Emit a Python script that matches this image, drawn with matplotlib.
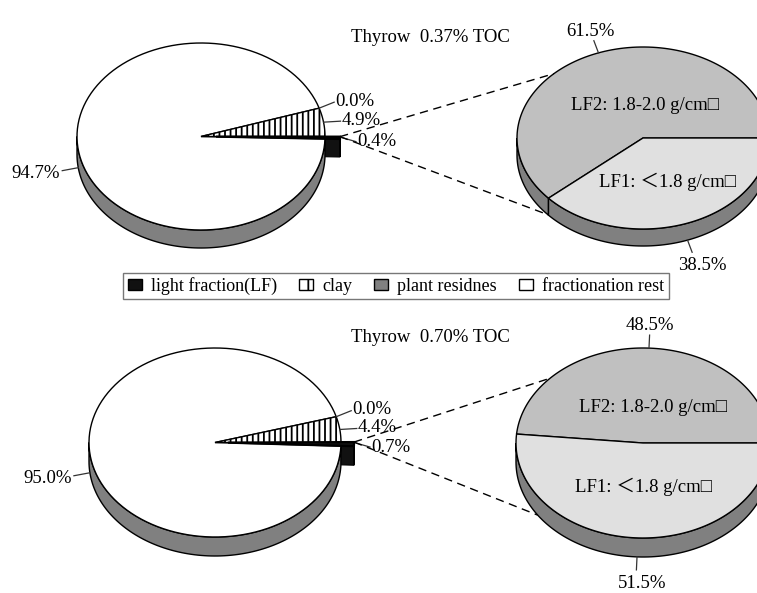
import numpy as np
import matplotlib.pyplot as plt
from matplotlib.patches import Polygon, Patch

plt.rcParams['font.family'] = ['Liberation Serif', 'Noto Sans CJK SC', 'DejaVu Serif']
plt.rcParams['font.size'] = 13.5
plt.rcParams['hatch.linewidth'] = 1.3

# shares of soil organic carbon (%), one entry per site TOC level
toc_levels = ['0.37%', '0.70%']
light_fraction = [0.4, 0.7]
clay = [4.9, 4.4]
plant_residues = [0.0, 0.0]
fractionation_rest = [94.7, 95.0]

# split of the light fraction (%)
lf1_share = [38.5, 51.5]
lf2_share = [61.5, 48.5]
lf1_label = 'LF1: \uff1c1.8 g/cm\u25a1'
lf2_label = 'LF2: 1.8-2.0 g/cm\u25a1'

legend_names = ['light fraction(LF)', 'clay', 'plant residnes', 'fractionation rest']

# pie geometry in pixels (centre, half axes, rim depth)
left_pies = [dict(cx=201, cy=136.5, a=124, b=93.5, depth=18, explode=15),
             dict(cx=215, cy=442.5, a=126, b=94.5, depth=19, explode=13)]
right_pies = [dict(cx=643, cy=138, a=126, b=91, depth=17),
              dict(cx=643, cy=443, a=127, b=95, depth=19)]
title_pos = [(430, 38), (430, 338)]
lf2_text_pos = [(645, 105), (653, 408)]
lf1_text_pos = [(668, 182), (644, 487)]
link_angles = [(135, 221), (137, 214)]

C_LF = '#111111'
C_SIDE = '#808080'
C_LF2 = '#c0c0c0'
C_LF1 = '#e0e0e0'


def rim(p, t, dz=0, off=(0, 0)):
    return (p['cx'] + off[0] + p['a'] * np.cos(t),
            p['cy'] + off[1] - p['b'] * np.sin(t) + dz)


def arc(p, t0, t1, dz=0, off=(0, 0), n=120):
    ts = np.linspace(t0, t1, n)
    return np.column_stack([p['cx'] + off[0] + p['a'] * np.cos(ts),
                            p['cy'] + off[1] - p['b'] * np.sin(ts) + dz])


def top_face(ax, p, t0, t1, off=(0, 0), **kw):
    c = [p['cx'] + off[0], p['cy'] + off[1]]
    verts = np.vstack([c, arc(p, t0, t1, off=off), c])
    ax.add_patch(Polygon(verts, closed=True, **kw))


def side_face(ax, p, t0, t1, off=(0, 0), **kw):
    lo, hi = max(t0, np.pi), min(t1, 2 * np.pi)
    if hi <= lo:
        return
    upper = arc(p, lo, hi, off=off)
    lower = arc(p, lo, hi, dz=p['depth'], off=off)[::-1]
    ax.add_patch(Polygon(np.vstack([upper, lower]), closed=True, **kw))


def cut_face(ax, p, t, off=(0, 0), **kw):
    c = (p['cx'] + off[0], p['cy'] + off[1])
    r = rim(p, t, off=off)
    d = p['depth']
    verts = [c, r, (r[0], r[1] + d), (c[0], c[1] + d)]
    ax.add_patch(Polygon(verts, closed=True, **kw))


def leader(ax, x0, y0, x1, y1):
    ax.plot([x0, x1], [y0, y1], color='#333333', lw=0.9, zorder=5)


fig = plt.figure(figsize=(7.57, 5.93), dpi=100)
ax = fig.add_axes([0, 0, 1, 1])
ax.set_xlim(0, 757)
ax.set_ylim(593, 0)
ax.axis('off')

for i, p in enumerate(left_pies):
    # slices run counter-clockwise from 3 o'clock: clay, plant residues, rest, LF
    shares = np.array([clay[i], plant_residues[i], fractionation_rest[i], light_fraction[i]])
    bounds = np.concatenate([[0], np.cumsum(shares)]) / 100 * 2 * np.pi
    t_clay, t_plant, t_rest, t_lf = bounds[1], bounds[2], bounds[3], bounds[4]

    # light fraction, pulled out of the pie
    mid = (t_rest + t_lf) / 2
    off = (p['explode'] * np.cos(mid), -p['explode'] * np.sin(mid) * p['b'] / p['a'])
    cut_face(ax, p, t_rest, off=off, facecolor=C_LF, edgecolor='k', lw=0.8, zorder=1)
    side_face(ax, p, t_rest, t_lf, off=off, facecolor=C_LF, edgecolor='k', lw=0.8, zorder=1)

    side_face(ax, p, t_plant, t_rest, facecolor=C_SIDE, edgecolor='k', lw=1.0, zorder=2)
    top_face(ax, p, t_plant, t_rest, facecolor='white', edgecolor='k', lw=1.0, zorder=3)
    top_face(ax, p, 0, t_clay, facecolor='white', edgecolor='k', hatch='|||', lw=1.0, zorder=3)
    top_face(ax, p, t_rest, t_lf, off=off, facecolor=C_LF, edgecolor='k', lw=1.6, zorder=4)

    # value labels
    x0, y0 = rim(p, t_clay)
    leader(ax, x0, y0, x0 + 15, y0 - 6)
    ax.text(x0 + 16, y0 - 7, f'{plant_residues[i]:.1f}%', ha='left', va='center')
    x0, y0 = rim(p, t_clay / 2)
    leader(ax, x0, y0, x0 + 17, y0 - 1)
    ax.text(x0 + 18, y0 - 2, f'{clay[i]:.1f}%', ha='left', va='center')
    bx, by = rim(p, t_lf, off=off)
    leader(ax, bx + 2, by + 1, bx + 16, by + 5)
    ax.text(bx + 17, by + 5, f'{light_fraction[i]:.1f}%', ha='left', va='center')
    x0, y0 = rim(p, (t_plant + t_rest) / 2, dz=p['depth'])
    leader(ax, x0, y0, x0 - 16, y0 + 3)
    ax.text(x0 - 18, y0 + 6, f'{fractionation_rest[i]:.1f}%', ha='right', va='center')

    ax.text(*title_pos[i], f'Thyrow  {toc_levels[i]} TOC', ha='center', va='center')

    # dashed links to the light fraction breakdown
    q = right_pies[i]
    ta, tb = np.radians(link_angles[i])
    xa, ya = rim(q, ta)
    xb, yb = rim(q, tb, dz=q['depth'])
    for xe, ye in [(xa, ya), (xb, yb)]:
        ax.plot([bx, xe], [by, ye], color='k', lw=1.0, ls=(0, (6, 4)), zorder=5)

for i, q in enumerate(right_pies):
    t_split = lf2_share[i] / 100 * 2 * np.pi
    side_face(ax, q, 0, t_split, facecolor=C_SIDE, edgecolor='k', lw=1.0, zorder=2)
    side_face(ax, q, t_split, 2 * np.pi, facecolor=C_SIDE, edgecolor='k', lw=1.0, zorder=2)
    top_face(ax, q, 0, t_split, facecolor=C_LF2, edgecolor='k', lw=1.0, zorder=3)
    top_face(ax, q, t_split, 2 * np.pi, facecolor=C_LF1, edgecolor='k', lw=1.0, zorder=3)

    ax.text(*lf2_text_pos[i], lf2_label, ha='center', va='center', zorder=6)
    ax.text(*lf1_text_pos[i], lf1_label, ha='center', va='center', zorder=6)

    # percentage labels on leader lines pointing out from each slice
    m2 = t_split / 2
    x0, y0 = rim(q, m2)
    ux, uy = np.cos(m2), -np.sin(m2)
    leader(ax, x0, y0, x0 + 13 * ux, y0 + 13 * uy)
    ax.text(x0 + 22 * ux, y0 + 24 * uy + 1, f'{lf2_share[i]:.1f}%', ha='center', va='center')
    m1 = (t_split + 2 * np.pi) / 2
    x0, y0 = rim(q, m1, dz=q['depth'])
    ux, uy = np.cos(m1), -np.sin(m1)
    leader(ax, x0, y0, x0 + 13 * ux, y0 + 13 * uy)
    ax.text(x0 + 26 * ux + 6, y0 + 24 * uy + 3, f'{lf1_share[i]:.1f}%', ha='center', va='center')

handles = [Patch(facecolor=C_LF, edgecolor='k'),
           Patch(facecolor='white', edgecolor='k', hatch='|'),
           Patch(facecolor=C_SIDE, edgecolor='k'),
           Patch(facecolor='white', edgecolor='k')]
leg = ax.legend(handles, legend_names, loc='center', bbox_to_anchor=(396 / 757, 1 - 286 / 593),
                ncol=4, frameon=True, fancybox=False, fontsize=13, handlelength=0.8,
                handleheight=0.55, handletextpad=0.5, columnspacing=1.2, borderpad=0.25,
                borderaxespad=0)
leg.get_frame().set_edgecolor('#555555')
leg.get_frame().set_linewidth(1.0)

fig.savefig('out.png', dpi=100)
